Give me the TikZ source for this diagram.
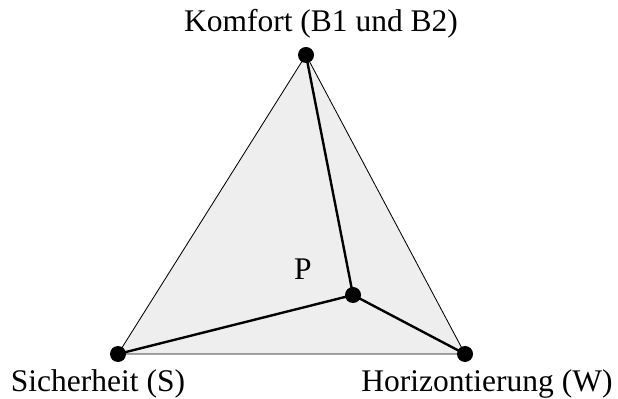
\documentclass[tikz,border=0pt]{standalone}
\usepackage{fontspec}
\setmainfont{Liberation Serif}
\usetikzlibrary{positioning}
\definecolor{cfill}{HTML}{EEEEEE}
\tikzset{
  every picture/.style={font=\fontsize{22.4}{26}\selectfont, line width=1.2pt},
  dot/.style={circle, fill=black, inner sep=0pt, minimum size=0.4cm},
  lbl/.style={inner sep=0pt, anchor=base},
  leg/.style={draw=black, line width=1.7pt},
}
\begin{document}
\begin{tikzpicture}[x=0.025cm, y=-0.025cm]
  \useasboundingbox (0,0) rectangle (618,399);
  \coordinate (K) at (306, 55);
  \coordinate (S) at (118, 354);
  \coordinate (W) at (465, 354);
  \coordinate (P) at (353, 295);
  \fill[cfill] (K) -- (S) -- (W) -- cycle;
  \draw[line width=0.6pt] (K) -- (S) -- (W) -- cycle;
  \draw[leg] (K) -- (P);
  \draw[leg] (S) -- (P);
  \draw[leg] (W) -- (P);
  \foreach \v in {K, S, W, P}
    \node[dot] at (\v) {};
  \node[lbl] (kl) at (321, 32) {Komfort (B1 und B2)};
  \node[lbl] (sl) at (98, 391) {Sicherheit (S)};
  \node[lbl] (wl) at (487, 391) {Horizontierung (W)};
  \node[lbl] (pl) at (303, 280) {P};
\end{tikzpicture}
\end{document}
